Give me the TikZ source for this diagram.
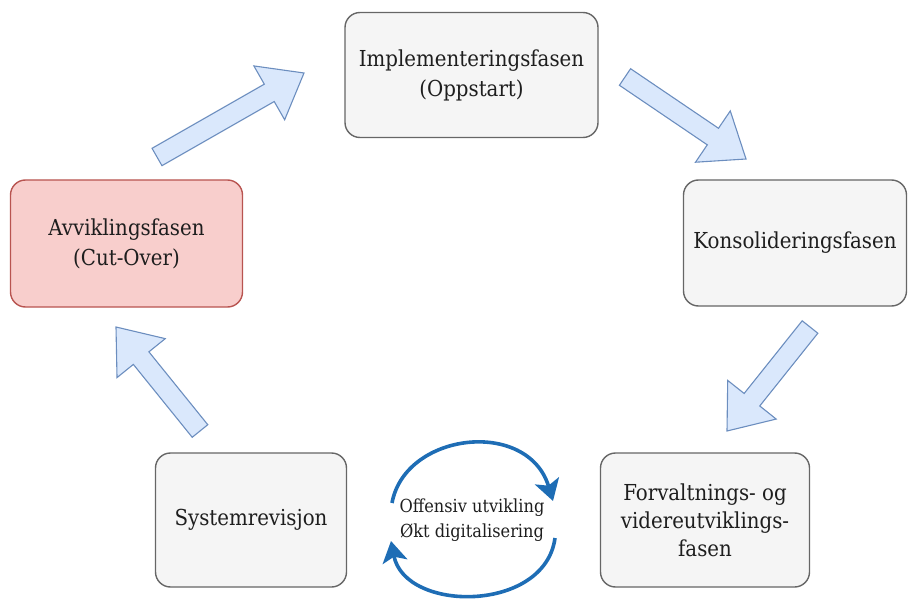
\documentclass[tikz,border=0pt]{standalone}
\usepackage{fontspec}
\setmainfont{DejaVu Serif Condensed}
\usetikzlibrary{calc,arrows.meta}

\definecolor{boxfill}{HTML}{F5F5F5}
\definecolor{boxline}{HTML}{666666}
\definecolor{redfill}{HTML}{F8CECC}
\definecolor{redline}{HTML}{B85450}
\definecolor{arrfill}{HTML}{DAE8FC}
\definecolor{arrline}{HTML}{6C8EBF}
\definecolor{cycleblue}{HTML}{1E6DB5}
\definecolor{labeltext}{HTML}{1E1E1E}

\tikzset{
  phase/.style={draw=boxline, fill=boxfill, line width=1.4pt,
    rounded corners=15pt, inner sep=0pt, align=center, text=labeltext,
    font=\fontsize{22}{30}\selectfont},
  exitphase/.style={phase, draw=redline, fill=redfill},
  blockarr/.style={draw=arrline, fill=arrfill, line width=1.1pt, line join=miter},
  cyclearr/.style={draw=cycleblue, line width=3.6pt,
    -{Stealth[length=21pt, width=25pt, inset=5pt]}},
  cyclelabel/.style={align=center, text=labeltext, inner sep=0pt,
    font=\fontsize{18}{25}\selectfont}
}

% Thick block arrow from tail coordinate #1 to tip coordinate #2
\newcommand{\blockarrow}[2]{%
  \coordinate (ba-base) at ($(#2)!40pt!(#1)$);
  \draw[blockarr]
    ($(#1)!10pt!90:(#2)$) -- ($(ba-base)!10pt!90:(#2)$) --
    ($(ba-base)!31pt!90:(#2)$) -- (#2) --
    ($(ba-base)!31pt!-90:(#2)$) -- ($(ba-base)!10pt!-90:(#2)$) --
    ($(#1)!10pt!-90:(#2)$) -- cycle;
}

\begin{document}
\begin{tikzpicture}[x=1pt, y=-1pt]
  \useasboundingbox (0,0) rectangle (908,599);

  % Phase boxes
  \node[phase, minimum width=253pt, minimum height=125pt] (impl) at (471.5,75)
    {Implementeringsfasen\\(Oppstart)};
  \node[phase, minimum width=223pt, minimum height=126pt] (kons) at (795,243)
    {Konsolideringsfasen};
  \node[phase, minimum width=209pt, minimum height=134pt] (forv) at (705,520)
    {Forvaltnings- og\\[-2pt]videreutviklings-\\[-2pt]fasen};
  \node[phase, minimum width=191pt, minimum height=134pt] (sys) at (251,520)
    {Systemrevisjon};
  \node[exitphase, minimum width=232pt, minimum height=127pt] (avvik) at (126.5,243.5)
    {Avviklingsfasen\\(Cut-Over)};

  % End points of the block arrows between the phases
  \coordinate (a1t) at (157,157);  \coordinate (a1h) at (304,73);
  \coordinate (a2t) at (625,77);   \coordinate (a2h) at (746,159);
  \coordinate (a3t) at (810,327);  \coordinate (a3h) at (727,431);
  \coordinate (a4t) at (200,431);  \coordinate (a4h) at (116,327);

  \blockarrow{a1t}{a1h}
  \blockarrow{a2t}{a2h}
  \blockarrow{a3t}{a3h}
  \blockarrow{a4t}{a4h}

  % Continuous development cycle in the middle
  \node[cyclelabel] (cyc) at (472,520) {Offensiv utvikling\\Økt digitalisering};
  \coordinate (c1) at (392,503);
  \coordinate (c2) at (553,501);
  \coordinate (c3) at (555,538);
  \coordinate (c4) at (391,541);
  \draw[cyclearr] (c1) .. controls (405,432) and (528,418) .. (c2);
  \draw[cyclearr] (c3) .. controls (545,613) and (405,613) .. (c4);
\end{tikzpicture}
\end{document}
